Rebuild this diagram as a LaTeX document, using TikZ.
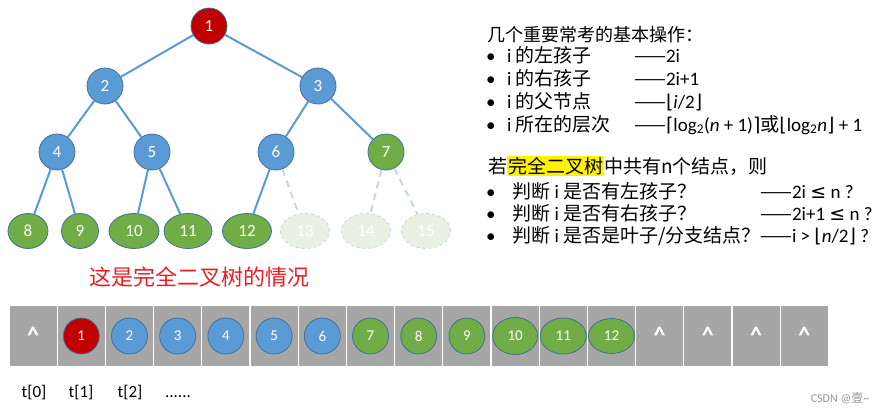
\documentclass[tikz,border=0pt]{standalone}
\usepackage{fontspec}
\setmainfont{Carlito}
\newfontfamily\cjk{Noto Sans CJK SC}
\newfontfamily\sym{DejaVu Sans}
\usetikzlibrary{shapes.geometric}
\definecolor{nodeblue}{RGB}{91, 155, 213}
\definecolor{rimblue}{RGB}{65, 113, 156}
\definecolor{rootred}{RGB}{192, 0, 0}
\definecolor{leafgreen}{RGB}{112, 173, 71}
\definecolor{ghostgreen}{RGB}{234, 241, 227}
\definecolor{ghostline}{RGB}{200, 214, 228}
\definecolor{cellgray}{RGB}{166, 166, 166}
\definecolor{tipred}{RGB}{236, 28, 36}
\definecolor{markgray}{RGB}{150, 150, 150}

\tikzset{
  tnode/.style={circle, draw=rimblue, line width=0.8pt, minimum size=36pt,
                inner sep=0pt, text=white, font=\fontsize{17}{17}\selectfont},
  bnode/.style={tnode, ellipse, minimum width=#1, minimum height=35pt},
  bnode/.default=44pt,
  ghost/.style={bnode=49pt, fill=ghostgreen, draw=ghostline, dashed},
  link/.style={draw=nodeblue, line width=2pt},
  ghostlink/.style={draw=ghostline, line width=2pt, dash pattern=on 7pt off 5pt},
  txt/.style={anchor=base west, inner sep=0pt, font=\fontsize{19}{19}\selectfont},
  cell/.style={rectangle, fill=cellgray, draw=white, line width=1.2pt,
               minimum width=48.2pt, minimum height=62pt, inner sep=0pt},
  anode/.style={tnode, minimum size=36pt, font=\fontsize{15}{15}\selectfont},
  hat/.style={anchor=base, text=white, yshift=-7pt, font=\fontsize{24}{24}\selectfont\bfseries},
  idx/.style={anchor=base, font=\fontsize{17}{17}\selectfont}
}

\begin{document}
\begin{tikzpicture}[x=1pt, y=-1pt]
  \useasboundingbox (0,0) rectangle (888,413);

  % 完全二叉树
  \node[tnode, fill=rootred]   (n1) at (209, 26) {1};
  \node[tnode, fill=nodeblue]  (n2) at (105, 86) {2};
  \node[tnode, fill=nodeblue]  (n3) at (318, 86) {3};
  \node[tnode, fill=nodeblue]  (n4) at (57, 152) {4};
  \node[tnode, fill=nodeblue]  (n5) at (152, 152) {5};
  \node[tnode, fill=nodeblue]  (n6) at (276, 152) {6};
  \node[tnode, fill=leafgreen] (n7) at (386, 152) {7};
  \node[bnode=40pt, fill=leafgreen] (n8)  at (28, 231) {8};
  \node[bnode=37pt, fill=leafgreen] (n9)  at (80, 231) {9};
  \node[bnode=50pt, fill=leafgreen] (n10) at (134, 231) {10};
  \node[bnode=48pt, fill=leafgreen] (n11) at (188, 231) {11};
  \node[bnode=49pt, fill=leafgreen] (n12) at (247, 231) {12};
  \node[ghost] (n13) at (305, 231) {13};
  \node[ghost] (n14) at (366, 231) {14};
  \node[ghost] (n15) at (426, 231) {15};

  \draw[link] (n1) -- (n2);  \draw[link] (n1) -- (n3);
  \draw[link] (n2) -- (n4);  \draw[link] (n2) -- (n5);
  \draw[link] (n3) -- (n6);  \draw[link] (n3) -- (n7);
  \draw[link] (n4) -- (n8);  \draw[link] (n4) -- (n9);
  \draw[link] (n5) -- (n10); \draw[link] (n5) -- (n11);
  \draw[link] (n6) -- (n12);
  \draw[ghostlink] (n6) -- (n13);
  \draw[ghostlink] (n7) -- (n14); \draw[ghostlink] (n7) -- (n15);

  \node[text=tipred, font=\fontsize{22}{22}\selectfont\cjk] (tip) at (199, 277) {这是完全二叉树的情况};

  % 基本操作
  \node[txt, font=\fontsize{18}{18}\selectfont] (ops) at (487, 41) {\cjk 几个重要常考的基本操作：};
  \node[txt] (b1) at (486, 62)  {•}; \node[txt] (o1) at (507, 62)  {i {\cjk 的左孩子}};
  \node[txt] (f1) at (634, 62)  {{\cjk ——}2i};
  \node[txt] (b2) at (486, 85)  {•}; \node[txt] (o2) at (507, 85)  {i {\cjk 的右孩子}};
  \node[txt] (f2) at (634, 85)  {{\cjk ——}2i+1};
  \node[txt] (b3) at (486, 108) {•}; \node[txt] (o3) at (507, 108) {i {\cjk 的父节点}};
  \node[txt] (f3) at (634, 108) {{\cjk ——}{\sym ⌊}\textit{i}/2{\sym ⌋}};
  \node[txt] (b4) at (486, 131) {•}; \node[txt] (o4) at (507, 131) {i {\cjk 所在的层次}};
  \node[txt] (f4) at (634, 131) {{\cjk ——}{\sym ⌈}log\textsubscript{2}(\textit{n} + 1){\sym ⌉}{\cjk 或}{\sym ⌊}log\textsubscript{2}\textit{n}{\sym ⌋} + 1};

  % n 个结点的判断
  \node[txt] (cond) at (488, 173) {\fboxsep=1pt\cjk 若\colorbox{yellow}{完全二叉树}中共有n个结点，则};
  \node[txt] (b5) at (486, 198) {•}; \node[txt] (q1) at (512, 198) {{\cjk 判断} i {\cjk 是否有左孩子？}};
  \node[txt] (g1) at (760, 198) {{\cjk ——}2i {\sym ≤} n ?};
  \node[txt] (b6) at (486, 220) {•}; \node[txt] (q2) at (512, 220) {{\cjk 判断} i {\cjk 是否有右孩子？}};
  \node[txt] (g2) at (760, 220) {{\cjk ——}2i+1 {\sym ≤} n ?};
  \node[txt] (b7) at (486, 242) {•}; \node[txt] (q3) at (512, 242) {{\cjk 判断} i {\cjk 是否是叶子/分支结点？}};
  \node[txt] (g3) at (760, 242) {{\cjk ——}i > {\sym ⌊}\textit{n}/2{\sym ⌋} ?};

  % 顺序存储数组 t[0..16]
  \foreach \k in {0,...,16}
    \node[cell] (c\k) at (33.1+48.2*\k, 336) {};
  \node[hat] (h0)  at (c0.center)  {\textasciicircum};
  \node[hat] (h13) at (c13.center) {\textasciicircum};
  \node[hat] (h14) at (c14.center) {\textasciicircum};
  \node[hat] (h15) at (c15.center) {\textasciicircum};
  \node[hat] (h16) at (c16.center) {\textasciicircum};
  \node[anode, fill=rootred]  (a1) at (c1) {1};
  \node[anode, fill=nodeblue] (a2) at (c2) {2};
  \node[anode, fill=nodeblue] (a3) at (c3) {3};
  \node[anode, fill=nodeblue] (a4) at (c4) {4};
  \node[anode, fill=nodeblue] (a5) at (c5) {5};
  \node[anode, fill=nodeblue] (a6) at (c6) {6};
  \node[anode, fill=leafgreen] (a7) at (c7) {7};
  \node[anode, fill=leafgreen] (a8) at (c8) {8};
  \node[anode, fill=leafgreen] (a9) at (c9) {9};
  \node[anode, ellipse, minimum width=45pt, minimum height=37pt, fill=leafgreen] (a10) at (c10) {10};
  \node[anode, ellipse, minimum width=46pt, minimum height=36pt, fill=leafgreen] (a11) at (c11) {11};
  \node[anode, ellipse, minimum width=46pt, minimum height=35pt, fill=leafgreen] (a12) at (c12) {12};

  \node[idx] (t0) at (34, 397)  {t[0]};
  \node[idx] (t1) at (81, 397)  {t[1]};
  \node[idx] (t2) at (130, 397) {t[2]};
  \node[idx] (td) at (178, 397) {......};

  \node[text=markgray, font=\fontsize{12}{12}\selectfont] (mark) at (840, 398) {CSDN @{\cjk 壹}\textasciitilde};
\end{tikzpicture}
\end{document}
